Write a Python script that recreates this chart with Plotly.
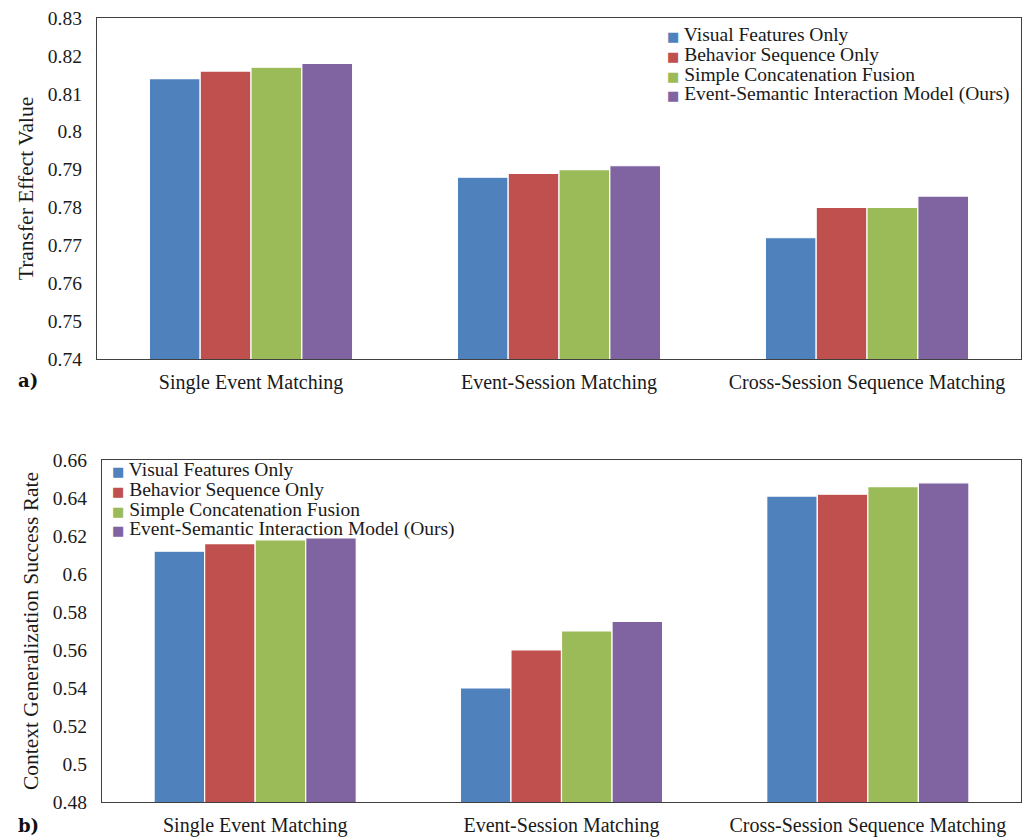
import plotly.graph_objects as go

categories = ["Single Event Matching", "Event-Session Matching", "Cross-Session Sequence Matching"]
series_names = ["Visual Features Only", "Behavior Sequence Only",
                "Simple Concatenation Fusion", "Event-Semantic Interaction Model (Ours)"]
colors = ["#4F81BD", "#C0504D", "#9BBB59", "#8064A2"]

transfer_visual = [0.814, 0.788, 0.772]
transfer_behavior = [0.816, 0.789, 0.780]
transfer_concat = [0.817, 0.790, 0.780]
transfer_ours = [0.818, 0.791, 0.783]

success_visual = [0.612, 0.540, 0.641]
success_behavior = [0.616, 0.560, 0.642]
success_concat = [0.618, 0.570, 0.646]
success_ours = [0.619, 0.575, 0.648]

top_series = [transfer_visual, transfer_behavior, transfer_concat, transfer_ours]
bottom_series = [success_visual, success_behavior, success_concat, success_ours]

FONT = "Liberation Serif"
W, H = 1035, 838
ML, MR, MT, MB = 97, 14, 18, 36
PW, PH = W - ML - MR, H - MT - MB


def px_x(x):
    return (x - ML) / PW


def px_y(y):
    return (H - MB - y) / PH


fig = go.Figure()
for name, vals, col in zip(series_names, top_series, colors):
    fig.add_trace(go.Bar(x=categories, y=vals, name=name, marker_color=col,
                         marker_line_color="white", marker_line_width=1.2,
                         xaxis="x", yaxis="y", showlegend=False))
for name, vals, col in zip(series_names, bottom_series, colors):
    fig.add_trace(go.Bar(x=categories, y=vals, name=name, marker_color=col,
                         marker_line_color="white", marker_line_width=1.2,
                         xaxis="x2", yaxis="y2", showlegend=False))

axis_common = dict(showline=True, mirror=True, linecolor="#404040", linewidth=1.3,
                   showgrid=False, zeroline=False, ticks="", automargin=False)
ytickfont = dict(family=FONT, size=19.5, color="#1a1a1a")
xtickfont = dict(family=FONT, size=20, color="#1a1a1a")
titlefont = dict(family=FONT, size=21.5, color="#1a1a1a")

fig.update_layout(
    width=W, height=H,
    margin=dict(l=ML, r=MR, t=MT, b=MB, autoexpand=False),
    paper_bgcolor="white", plot_bgcolor="white",
    barmode="group", bargap=0.34, bargroupgap=0,
    font=dict(family=FONT, color="#1a1a1a"),
    xaxis=dict(domain=[0, 1], anchor="y", ticklabelstandoff=5, tickfont=xtickfont, **axis_common),
    yaxis=dict(domain=[px_y(359), 1], anchor="x", range=[0.74, 0.83],
               tickmode="linear", tick0=0.74, dtick=0.01, ticklabelstandoff=10,
               tickfont=ytickfont,
               title=dict(text="Transfer Effect Value", standoff=8, font=titlefont),
               **axis_common),
    xaxis2=dict(domain=[px_x(102), 1], anchor="y2", ticklabelstandoff=5, tickfont=xtickfont,
                **axis_common),
    yaxis2=dict(domain=[0, px_y(460)], anchor="x2", range=[0.48, 0.66],
                tickmode="linear", tick0=0.48, dtick=0.02, ticklabelstandoff=10,
                tickfont=ytickfont,
                title=dict(text="Context Generalization Success Rate", standoff=8, font=titlefont),
                **axis_common),
)

annotations = []
# Legends (manual, to match the compact line spacing of the original)
for i, (name, col) in enumerate(zip(series_names, colors)):
    sq = f'<span style="color:{col};font-family:DejaVu Sans;font-size:13px">■</span> {name}'
    annotations.append(dict(
        xref="paper", yref="paper", x=px_x(665), y=px_y(35 + i * 19.8),
        xanchor="left", yanchor="middle", showarrow=False, text=sq,
        font=dict(family=FONT, size=19.5, color="#1a1a1a")))
    annotations.append(dict(
        xref="paper", yref="paper", x=px_x(110), y=px_y(470 + i * 19.6),
        xanchor="left", yanchor="middle", showarrow=False, text=sq,
        font=dict(family=FONT, size=19.5, color="#1a1a1a")))

annotations.append(dict(xref="paper", yref="paper", x=px_x(16), y=px_y(380),
                        xanchor="left", yanchor="middle", showarrow=False,
                        text="<b>a)</b>", font=dict(family="DejaVu Serif", size=18, color="#111")))
annotations.append(dict(xref="paper", yref="paper", x=px_x(16), y=px_y(825),
                        xanchor="left", yanchor="middle", showarrow=False,
                        text="<b>b)</b>", font=dict(family="DejaVu Serif", size=18, color="#111")))
fig.update_layout(annotations=annotations)

fig.write_html("out.html")
